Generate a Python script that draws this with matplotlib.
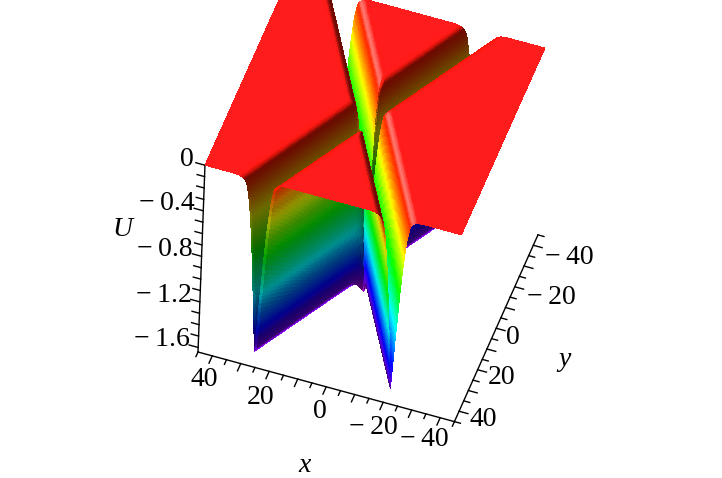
import numpy as np
import matplotlib
matplotlib.use('Agg')
import matplotlib.pyplot as plt
from matplotlib.colors import hsv_to_rgb
from mpl_toolkits.mplot3d import proj3d

plt.rcParams['font.family'] = ['Liberation Serif', 'DejaVu Serif']

# ticks
x_major = [40, 20, 0, -20, -40]
y_major = [-40, -20, 0, 20, 40]
u_major = [0, -0.4, -0.8, -1.2, -1.6]
x_labels = ['40', '20', '0', '\u2212\u200920', '\u2212\u200940']
y_labels = ['\u2212\u200940', '\u2212\u200920', '0', '20', '40']
u_labels = ['0', '\u2212\u20090.4', '\u2212\u20090.8', '\u2212\u20091.2', '\u2212\u20091.6']
xy_limit = 45
u_floor = -1.64

# valley cross-section read off the front edge of the surface: x distance from the
# valley bottom against U. The mesh heights below are looked up from this profile,
# the surface is too fine to be typed point by point
profile_dist = [0, 0.35, 0.7, 1.0, 1.5, 2.1, 2.7, 3.2, 3.7, 4.3, 4.8, 5.4, 6.2, 7.3, 9]
profile_u = [-1.5, -1.36, -1.22, -1.08, -0.90, -0.66, -0.46, -0.33, -0.21, -0.12, -0.06,
             -0.035, -0.018, -0.006, 0]

# valley bottom lines, x at y = 45 and at y = -45
valley1_x = [25.4, -22.3]
valley2_x = [-22.3, 25.4]
valley_y = [45, -45]

# label centres in pixels of the picture
x_label_pos = [(204, 379), (261, 398), (320, 412), (373, 428), (424, 440)]
y_label_pos = [(569, 257), (551, 297), (513, 338), (502, 378), (483, 420)]
u_label_pos = [(187, 160), (167, 204), (165, 250), (164, 295), (162, 340)]


def valley_centre(Y, valley_x):
    return np.interp(Y, valley_y[::-1], valley_x[::-1])


def surface(X, Y):
    U1 = np.interp(np.abs(X - valley_centre(Y, valley1_x)), profile_dist, profile_u)
    U2 = np.interp(np.abs(X - valley_centre(Y, valley2_x)), profile_dist, profile_u)
    return np.minimum(U1, U2) + 0.09 * np.maximum(U1, U2)


def pix(x, y, z):
    xs, ys, _ = proj3d.proj_transform(x, y, z, ax.get_proj())
    return ax.transData.transform((xs, ys))


fig = plt.figure(figsize=(7.22, 4.78), dpi=100)
W, H = 722, 478
ax = fig.add_axes([0, 0, 1, 1], projection='3d', proj_type='ortho')
ax.set_axis_off()
ax.set_box_aspect((271, 262, 287))
ax.view_init(elev=49.3, azim=107.0, roll=-2.14)
ax.set_xlim(-xy_limit, xy_limit)
ax.set_ylim(-xy_limit, xy_limit)
ax.set_zlim(u_floor, 0)

# fit the box on the picture using two of its corners
fig.canvas.draw()
p0 = pix(xy_limit, xy_limit, u_floor)
p1 = pix(-xy_limit, -xy_limit, u_floor)
t0 = np.array([198, H - 352])
t1 = np.array([538, H - 235])
scale = np.linalg.norm(t1 - t0) / np.linalg.norm(p1 - p0)
c0 = np.array([W / 2, H / 2])
side = H * scale
c1 = t0 - scale * (p0 - c0)
ax.set_position([(c1[0] - side / 2) / W, (c1[1] - side / 2) / H, side / W, side / H])

# mesh columns follow the two valley lines, so the bottoms are hit on every row
ys = np.linspace(-xy_limit, xy_limit, 121)
s_out = np.linspace(0, 1, 140) ** 2.2
s_mid = np.linspace(0, 1, 110) ** 2.2
rows = []
for y in ys:
    c_a = valley_centre(y, valley1_x)
    c_b = valley_centre(y, valley2_x)
    left, right = min(c_a, c_b), max(c_a, c_b)
    mid = (left + right) / 2
    col = np.concatenate([
        left - s_out[::-1] * (left + xy_limit),
        left + s_mid[1:] * (mid - left),
        right - s_mid[::-1][1:] * (right - mid),
        right + s_out[1:] * (xy_limit - right),
    ])
    rows.append(col)
X = np.array(rows)
Y = np.repeat(ys[:, None], X.shape[1], axis=1)
U = surface(X, Y)

# colour by height, with a light coming from the +x side
h = 0.4
Ux = (surface(X + h, Y) - surface(X - h, Y)) / (2 * h)
Uy = (surface(X, Y + h) - surface(X, Y - h)) / (2 * h)
k = 40.0
nx, ny = -k * Ux, -k * Uy
nz = np.ones_like(U)
norm = np.sqrt(nx ** 2 + ny ** 2 + nz ** 2)
light = np.array([0.55, 0.32, 0.77])
d = (nx * light[0] + ny * light[1] + nz * light[2]) / norm
hue = np.clip(U / u_floor, 0, 1) * 300 / 360
base = hsv_to_rgb(np.dstack([hue, np.ones_like(U), np.ones_like(U)]))
level = np.clip(1.9 * (np.abs(d) - 0.1), 0.42, 1)[..., None]
white = (0.11 * (nz / norm) ** 8 + 0.42 * np.clip((d - 0.85) / 0.15, 0, 1) ** 2)[..., None]
rgb = np.clip(base * level * (1 - white) + white, 0, 1)
rgb[:-1, :-1] = (rgb[:-1, :-1] + rgb[1:, :-1] + rgb[:-1, 1:] + rgb[1:, 1:]) / 4

ax.plot_surface(X, Y, U, facecolors=rgb, rstride=1, cstride=1, shade=False,
                linewidth=0, antialiased=False)

# box axes
ax.plot([xy_limit, -xy_limit], [xy_limit, xy_limit], [u_floor, u_floor], color='k', lw=1)
ax.plot([-xy_limit, -xy_limit], [xy_limit, -xy_limit], [u_floor, u_floor], color='k', lw=1)
ax.plot([xy_limit, xy_limit], [xy_limit, xy_limit], [u_floor, 0], color='k', lw=1)
for v in range(-45, 46, 5):
    long_tick = v % 10 == 0
    # x ticks point to +y, y ticks point to -x
    ln = 3.5 if long_tick else 2.2
    ax.plot([v, v], [xy_limit, xy_limit + ln], [u_floor, u_floor], color='k', lw=1)
    ln = 3.1 if long_tick else 2.1
    ax.plot([-xy_limit, -xy_limit - ln], [v, v], [u_floor, u_floor], color='k', lw=1)
for i in range(0, 17):
    ln = 3.2 if i % 4 == 0 else 2.6
    ax.plot([xy_limit, xy_limit + ln], [xy_limit, xy_limit], [-i / 10, -i / 10], color='k', lw=1)
ax.set_xlim(-xy_limit, xy_limit)
ax.set_ylim(-xy_limit, xy_limit)
ax.set_zlim(u_floor, 0)


def label(txt, pos, **kw):
    fig.text(pos[0] / W, 1 - pos[1] / H, txt, ha='center', va='center', fontsize=20, **kw)


for txt, pos in zip(x_labels, x_label_pos):
    label(txt, pos)
for txt, pos in zip(y_labels, y_label_pos):
    label(txt, pos)
for txt, pos in zip(u_labels, u_label_pos):
    label(txt, pos)
label('U', (122, 230), style='italic')
label('x', (305, 465), style='italic')
label('y', (564, 360), style='italic')

fig.savefig('out.png', dpi=100)
